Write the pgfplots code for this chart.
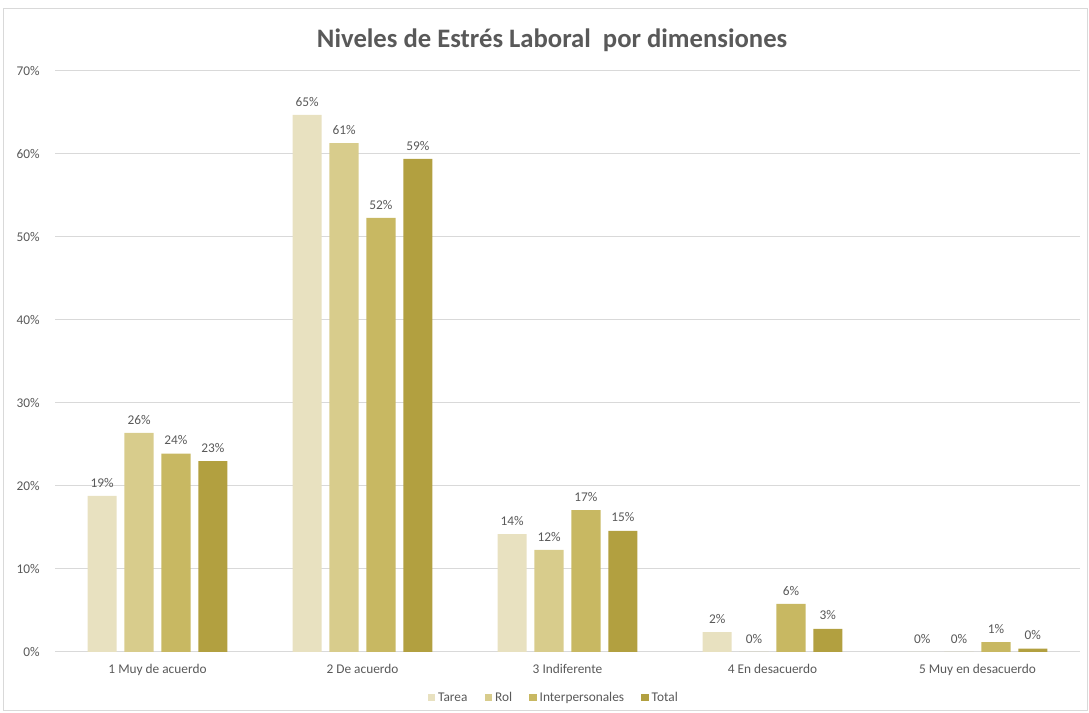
\documentclass[border=0pt]{standalone}
\usepackage{fontspec}
\setmainfont{Carlito}
\usepackage{pgfplots}
\pgfplotsset{compat=1.18}
\definecolor{cT}{HTML}{E8E1C0}
\definecolor{cR}{HTML}{D8CC8C}
\definecolor{cI}{HTML}{C8B862}
\definecolor{cO}{HTML}{B2A040}
\definecolor{txt}{HTML}{595959}
\definecolor{grd}{HTML}{D9D9D9}
\begin{document}
\begin{tikzpicture}[x=0.75pt,y=0.75pt]
\path (-55,-61) rectangle (1034,652);
\draw[grd] (-52,-58) rectangle (1032,644);
\begin{axis}[
  at={(0,0)}, anchor=south west,
  scale only axis, width=768.75pt, height=435.75pt,
  xmin=-0.5, xmax=4.5, ymin=0, ymax=70,
  ybar, bar width=0.142,
  xtick={0,1,2,3,4},
  xticklabels={1 Muy de acuerdo,2 De acuerdo,3 Indiferente,4 En desacuerdo,5 Muy en desacuerdo},
  ytick={0,10,...,70},
  yticklabel={\pgfmathprintnumber{\tick}\%},
  /pgf/number format/assume math mode=true,
  ymajorgrids, grid style={grd, line width=0.75pt},
  axis x line*=bottom, axis y line*=left,
  x axis line style={grd, line width=0.75pt},
  y axis line style={draw=none},
  major tick length=0pt,
  ticklabel style={font=\fontsize{10}{12}\selectfont, text=txt},
  xticklabel style={yshift=-6pt},
  yticklabel style={xshift=-8pt},
  title={\bfseries Niveles de Estrés Laboral\ \ por dimensiones},
  title style={at={(0.485,1)}, anchor=center, yshift=17pt, font=\fontsize{20}{24}\selectfont, text=txt},
  nodes near coords={\pgfmathprintnumber[fixed,precision=0]{\pgfplotspointmeta}\%},
  nodes near coords style={font=\fontsize{10}{12}\selectfont, text=txt, yshift=3pt},
  legend style={at={(0.487,-0.079)}, anchor=center, legend columns=4, draw=none,
    font=\fontsize{10}{12}\selectfont, text=txt,
    /tikz/every even column/.append style={column sep=11pt},
    /tikz/every odd column/.append style={column sep=0pt}},
  legend image code/.code={\fill[#1] (0.04cm,-0.09cm) rectangle (0.24cm,0.11cm);},
]
\addplot[fill=cT, draw=none, bar shift=-0.27] coordinates {(0,18.8) (1,64.7) (2,14.2) (3,2.4) (4,0)};
\addplot[fill=cR, draw=none, bar shift=-0.09] coordinates {(0,26.4) (1,61.3) (2,12.3) (3,0) (4,0)};
\addplot[fill=cI, draw=none, bar shift=0.09] coordinates {(0,23.9) (1,52.3) (2,17.1) (3,5.8) (4,1.2)};
\addplot[fill=cO, draw=none, bar shift=0.27] coordinates {(0,23.0) (1,59.4) (2,14.6) (3,2.8) (4,0.4)};
\legend{Tarea,Rol,Interpersonales,Total}
\end{axis}
\end{tikzpicture}
\end{document}
